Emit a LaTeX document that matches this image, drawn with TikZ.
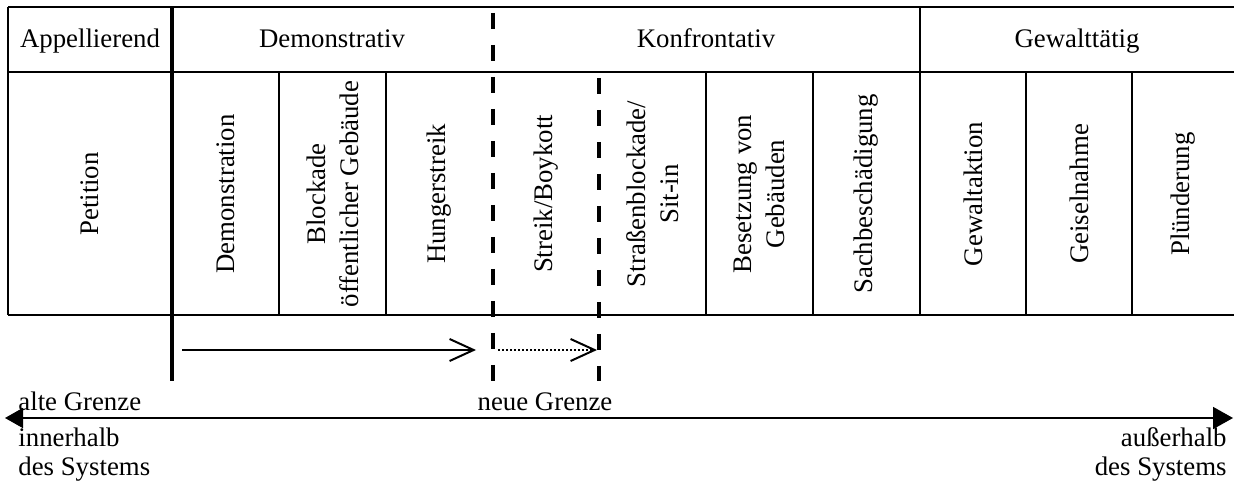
\documentclass[tikz,border=0pt]{standalone}
\usepackage{fontspec}
\setmainfont{Liberation Serif}
\usetikzlibrary{arrows.meta}
\tikzset{
  txt/.style={font=\fontsize{13.4}{16.5}\selectfont, inner sep=0pt},
  vtxt/.style={txt, rotate=90, align=center, anchor=center},
  tline/.style={line width=1pt},
  thickline/.style={line width=2.3pt},
  dline/.style={line width=2.2pt, dash pattern=on 8pt off 8pt, dash phase=-3pt},
  barb/.style={-{Straight Barb[length=12pt,width=11pt,line width=1pt]}},
}
\begin{document}
\begin{tikzpicture}[x=0.5pt,y=-0.5pt]
\useasboundingbox (0,0) rectangle (1234,485);
% table frame
\draw[tline] (8,7) -- (1236,7);
\draw[tline] (8,72) -- (1236,72);
\draw[tline] (8,315) -- (1236,315);
\draw[tline] (8,7) -- (8,315);
\draw[tline] (920,7) -- (920,315);
\foreach \x in {279,386,706,813,1026,1132} \draw[tline] (\x,72) -- (\x,315);
\draw[thickline] (172,7) -- (172,381);
\draw[dline] (493,7) -- (493,381);
\draw[dline] (599,72) -- (599,381);
% headers
\node[txt, anchor=base] (h1) at (90,48) {Appellierend};
\node[txt, anchor=base] (h2) at (332,48) {Demonstrativ};
\node[txt, anchor=base] (h3) at (706,48) {Konfrontativ};
\node[txt, anchor=base] (h4) at (1077,48) {Gewalttätig};
% columns
\node[vtxt] (c1) at (90,194) {Petition};
\node[vtxt] (c2) at (225.5,194) {Demonstration};
\node[vtxt] (c3) at (332.5,194) {Blockade\\öffentlicher Gebäude};
\node[vtxt] (c4) at (439.5,194) {Hungerstreik};
\node[vtxt] (c5) at (546,194) {Streik/Boykott};
\node[vtxt] (c6) at (652.5,194) {Straßenblockade/\\Sit-in};
\node[vtxt] (c7) at (759.5,194) {Besetzung von\\Gebäuden};
\node[vtxt] (c8) at (866.5,194) {Sachbeschädigung};
\node[vtxt] (c9) at (973,194) {Gewaltaktion};
\node[vtxt] (c10) at (1079,194) {Geiselnahme};
\node[vtxt] (c11) at (1183,194) {Plünderung};
% arrows
\coordinate (a1s) at (182,350);
\coordinate (a1e) at (476,350);
\coordinate (a2s) at (498,350);
\coordinate (a2e) at (597,350);
\draw[line width=0.9pt, barb] (a1s) -- (a1e);
\draw[line width=1pt, dash pattern=on 1pt off 1pt, barb] (a2s) -- (a2e);
\coordinate (bl) at (5,418);
\coordinate (br) at (1233,418);
\draw[line width=0.8pt, {Triangle[length=9pt,width=10pt]}-{Triangle[length=10pt,width=11pt]}] (bl) -- (br);
% labels
\node[txt, anchor=base west] (l1) at (18,410) {alte Grenze};
\node[txt, anchor=base] (l2) at (545,410) {neue Grenze};
\node[txt, anchor=base west] (l3) at (18,446) {innerhalb};
\node[txt, anchor=base west] (l4) at (18,475) {des Systems};
\node[txt, anchor=base east] (r1) at (1227,446) {außerhalb};
\node[txt, anchor=base east] (r2) at (1227,475) {des Systems};
\end{tikzpicture}
\end{document}
